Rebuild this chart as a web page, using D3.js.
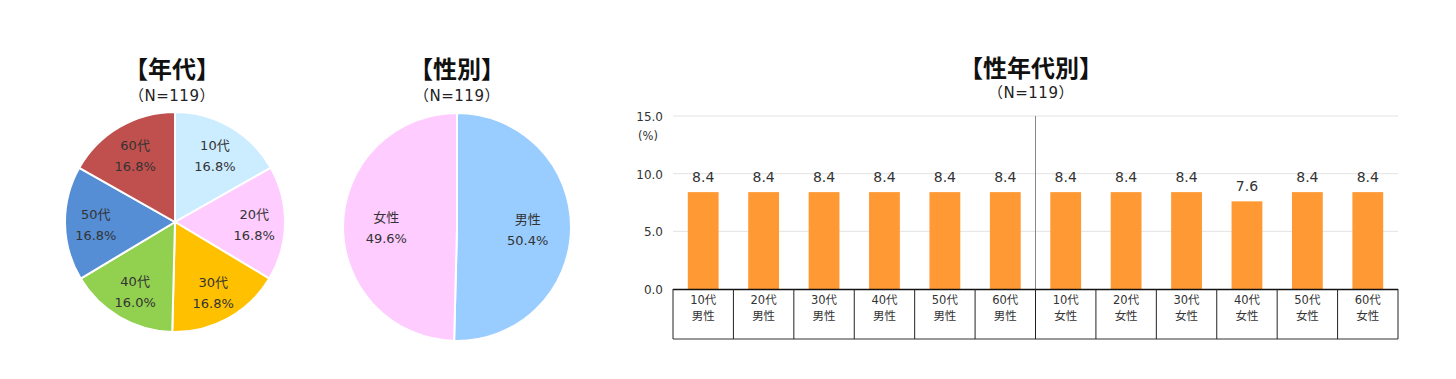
<!DOCTYPE html>
<html><head><meta charset="utf-8">
<script src="https://cdn.jsdelivr.net/npm/d3@7"></script>
<style>
body{margin:0;background:#fff;}
text{font-family:"DejaVu Sans","Noto Sans CJK JP",sans-serif;}
</style></head>
<body>
<svg id="c" width="1456" height="379"></svg>
<script>
const ageLabels = ["10代","20代","30代","40代","50代","60代"];
const ageValues = [16.8,16.8,16.8,16.0,16.8,16.8];
const ageColors = ["#CCECFF","#FFCCFF","#FFC000","#92D050","#558ED5","#C0504D"];
const sexLabels = ["男性","女性"];
const sexValues = [50.4,49.6];
const sexColors = ["#99CCFF","#FFCCFF"];
const barCats = ["10代\n男性","20代\n男性","30代\n男性","40代\n男性","50代\n男性","60代\n男性",
                 "10代\n女性","20代\n女性","30代\n女性","40代\n女性","50代\n女性","60代\n女性"];
const barValues = [8.4,8.4,8.4,8.4,8.4,8.4,8.4,8.4,8.4,7.6,8.4,8.4];
const yTicks = [0,5,10,15];

const svg = d3.select("#c");

function title(x, t, y1, y2){
  svg.append("text").attr("x",x).attr("y",y1).attr("text-anchor","middle")
    .attr("font-size",24).attr("font-weight","bold").attr("fill","#111")
    .style("font-family","'Noto Sans CJK JP',sans-serif").text(t);
  svg.append("text").attr("x",x).attr("y",y2).attr("text-anchor","middle")
    .attr("font-size",15).attr("fill","#222").attr("letter-spacing",0.5)
    .text("（N=119）");
}

function pie(cx, cy, r, labels, values, colors, lr){
  const g = svg.append("g").attr("transform",`translate(${cx},${cy})`);
  const arcs = d3.pie().sort(null)(values);
  const arc = d3.arc().innerRadius(0).outerRadius(r);
  const larc = d3.arc().innerRadius(r*lr).outerRadius(r*lr);
  g.selectAll("path").data(arcs).join("path")
    .attr("d",arc).attr("fill",(d,i)=>colors[i])
    .attr("stroke","#fff").attr("stroke-width",2);
  arcs.forEach((d,i)=>{
    const [x,y] = larc.centroid(d);
    g.append("text").attr("x",x).attr("y",y-4).attr("text-anchor","middle")
      .attr("font-size",13).attr("fill","#333").text(labels[i]);
    g.append("text").attr("x",x).attr("y",y+17).attr("text-anchor","middle")
      .attr("font-size",13).attr("fill","#333").text(values[i].toFixed(1)+"%");
  });
}

title(172,"【年代】",78,101);
pie(175,222,110,ageLabels,ageValues,ageColors,0.72);
title(457,"【性別】",78,101);
pie(457,227,114,sexLabels,sexValues,sexColors,0.62);
title(1031,"【性年代別】",77,98);

// bar chart
const L=673, R=1398, T=116, B=289, BB=339;
const x = d3.scaleBand().domain(barCats).range([L,R]).paddingInner(0.49).paddingOuter(0.245);
const xb = d3.scaleBand().domain(barCats).range([L,R]);
const y = d3.scaleLinear().domain([0,15]).range([B,T]);
const bg = svg.append("g");
bg.selectAll("line.grid").data(yTicks.filter(t=>t>0)).join("line")
  .attr("x1",L).attr("x2",R).attr("y1",d=>y(d)).attr("y2",d=>y(d))
  .attr("stroke","#e3e3e3").attr("stroke-width",1);
bg.selectAll("text.tick").data(yTicks).join("text")
  .attr("x",663).attr("y",d=>y(d)+5).attr("text-anchor","end")
  .attr("font-size",12).attr("fill","#333").text(d=>d.toFixed(1));
bg.append("text").attr("x",648).attr("y",y(15)+24).attr("text-anchor","middle")
  .attr("font-size",11.5).attr("fill","#333").text("(%)");
// divider
bg.append("line").attr("x1",xb(barCats[6])).attr("x2",xb(barCats[6]))
  .attr("y1",T).attr("y2",B).attr("stroke","#888").attr("stroke-width",1);
bg.selectAll("rect.bar").data(barValues).join("rect")
  .attr("x",(d,i)=>x(barCats[i])).attr("width",x.bandwidth())
  .attr("y",d=>y(d)).attr("height",d=>B-y(d)).attr("fill","#FF9933");
bg.selectAll("text.val").data(barValues).join("text")
  .attr("x",(d,i)=>xb(barCats[i])+xb.bandwidth()/2).attr("y",d=>y(d)-10)
  .attr("text-anchor","middle").attr("font-size",14).attr("fill","#333")
  .text(d=>d.toFixed(1));
// category boxes
bg.append("line").attr("x1",L).attr("x2",R).attr("y1",B+0.5).attr("y2",B+0.5)
  .attr("stroke","#111").attr("stroke-width",1.5);
bg.append("line").attr("x1",L).attr("x2",R).attr("y1",BB).attr("y2",BB)
  .attr("stroke","#333").attr("stroke-width",1);
const bounds = barCats.map(c=>xb(c)).concat([R]);
bg.selectAll("line.sep").data(bounds).join("line")
  .attr("x1",d=>d).attr("x2",d=>d).attr("y1",B).attr("y2",BB)
  .attr("stroke","#222").attr("stroke-width",1);
barCats.forEach((c,i)=>{
  const parts = c.split("\n");
  const cx = xb(c)+xb.bandwidth()/2;
  bg.append("text").attr("x",cx).attr("y",304).attr("text-anchor","middle")
    .attr("font-size",11.5).attr("fill","#333").text(parts[0]);
  bg.append("text").attr("x",cx).attr("y",320).attr("text-anchor","middle")
    .attr("font-size",11.5).attr("fill","#333").text(parts[1]);
});
</script>
</body></html>
